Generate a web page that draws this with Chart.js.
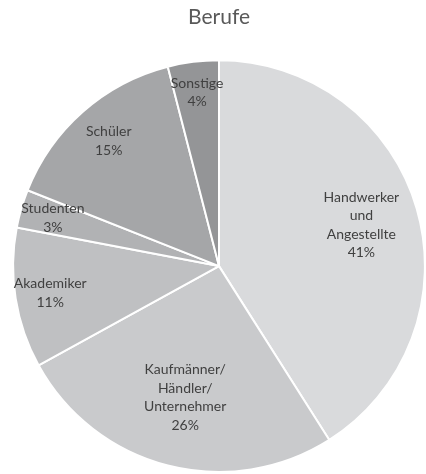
<!DOCTYPE html>
<html>
<head>
<meta charset="utf-8">
<script src="https://cdn.jsdelivr.net/npm/chart.js@4/dist/chart.umd.min.js"></script>
<style>
html,body{margin:0;padding:0;background:#fff;}
#wrap{width:426px;height:474px;}
</style>
</head>
<body>
<div id="wrap"><canvas id="c" width="426" height="474"></canvas></div>
<script>
const categories = [
  ["Handwerker", "und", "Angestellte"],
  ["Kaufmänner/", "Händler/", "Unternehmer"],
  ["Akademiker"],
  ["Studenten"],
  ["Schüler"],
  ["Sonstige"]
];
const values = [41, 26, 11, 3, 15, 4];
const percentLabels = ["41%", "26%", "11%", "3%", "15%", "4%"];
const sliceColors = ["#d9dadc", "#c9cacc", "#bfc0c2", "#b1b2b4", "#a5a6a8", "#949597"];
const labelRadius = [0.72, 0.66, 0.83, 0.84, 0.81, 0.85];

const sliceLabels = {
  id: 'sliceLabels',
  afterDatasetsDraw(chart) {
    const ctx = chart.ctx;
    const meta = chart.getDatasetMeta(0);
    ctx.save();
    ctx.font = '14px Lato, "Open Sans", sans-serif';
    ctx.fillStyle = '#404040';
    ctx.textAlign = 'center';
    ctx.textBaseline = 'middle';
    const lh = 18.5;
    meta.data.forEach((arc, i) => {
      const p = arc.getProps(['x','y','startAngle','endAngle','outerRadius'], true);
      const mid = (p.startAngle + p.endAngle) / 2;
      const r = p.outerRadius * labelRadius[i];
      const cx = p.x + Math.cos(mid) * r;
      const cy = p.y + Math.sin(mid) * r;
      const lines = categories[i].concat([percentLabels[i]]);
      const top = cy - (lines.length - 1) * lh / 2;
      lines.forEach((t, k) => ctx.fillText(t, cx, top + k * lh));
    });
    ctx.restore();
  }
};

new Chart(document.getElementById('c'), {
  type: 'pie',
  data: {
    labels: categories.map(c => c.join(' ')),
    datasets: [{
      data: values,
      backgroundColor: sliceColors,
      borderColor: '#ffffff',
      borderWidth: 2
    }]
  },
  options: {
    responsive: false,
    animation: false,
    layout: { padding: { left: 12, right: 0, top: 0, bottom: 1 } },
    plugins: {
      legend: { display: false },
      tooltip: { enabled: false },
      title: {
        display: true,
        text: 'Berufe',
        color: '#595959',
        font: { family: 'Lato, "Open Sans", sans-serif', size: 21, weight: 'normal' },
        padding: { top: 5, bottom: 29 }
      }
    }
  },
  plugins: [sliceLabels]
});
</script>
</body>
</html>
